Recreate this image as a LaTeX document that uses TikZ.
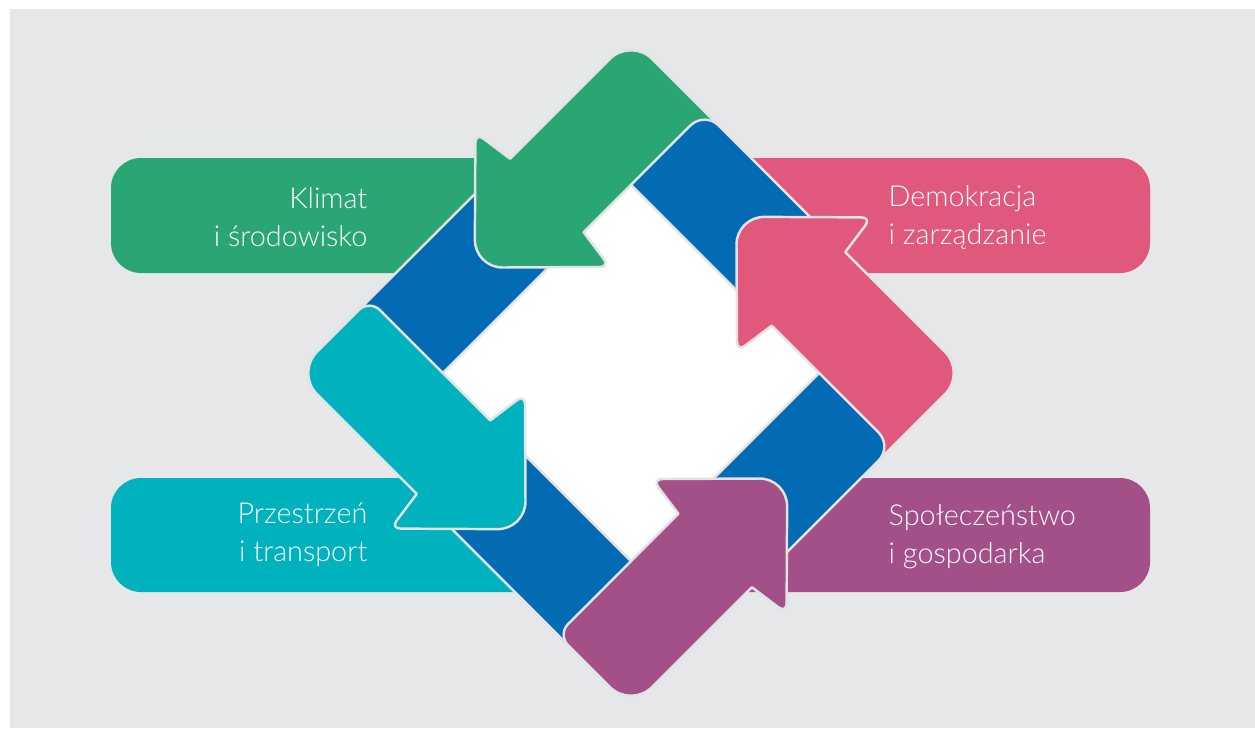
\documentclass[tikz,border=0pt]{standalone}
\usepackage{fontspec}
\IfFontExistsTF{Lato Light}{\setmainfont{Lato Light}}{\setmainfont{Lato}}
\definecolor{bggray}{HTML}{E6E7E8}
\definecolor{edgegray}{HTML}{E2E3E5}
\definecolor{ringblue}{HTML}{036BB3}
\definecolor{klimat}{HTML}{29A673}
\definecolor{demokracja}{HTML}{E0587B}
\definecolor{przestrzen}{HTML}{00B2BE}
\definecolor{spoleczenstwo}{HTML}{A45088}

\begin{document}
\begin{tikzpicture}[
    labelbox/.style={rounded corners=3mm},
    boxtext/.style={text=white, inner sep=0pt, font=\fontsize{8.2}{10.8}\selectfont},
    piece/.style={draw=edgegray, line width=.7pt, line join=round}]
        \useasboundingbox (0,0) rectangle (12.55,7.29);
        \fill[white] (0,0) rectangle (12.55,7.29);
        \fill[bggray] (0.10,0.01) rectangle (12.55,7.20);
        % label boxes
        \fill[labelbox, klimat] (1.11,4.56) rectangle (6.3,5.71);
        \fill[labelbox, demokracja] (6.3,4.56) rectangle (11.50,5.71);
        \fill[labelbox, przestrzen] (1.11,1.37) rectangle (6.3,2.51);
        \fill[labelbox, spoleczenstwo] (6.3,1.37) rectangle (11.50,2.51);
        \node[boxtext, anchor=east, align=right] (klimattext) at (3.68,5.12) {Klimat\\i środowisko};
        \node[boxtext, anchor=west, align=left] (demokracjatext) at (8.88,5.12) {Demokracja\\i zarządzanie};
        \node[boxtext, anchor=east, align=right] (przestrzentext) at (3.68,1.94) {Przestrzeń\\i transport};
        \node[boxtext, anchor=west, align=left] (spoleczenstwotext) at (8.88,1.92) {Społeczeństwo\\i gospodarka};
        % the ring, turned by 45 degrees
        \begin{scope}[shift={(6.31,3.56)}, rotate=45]
        \fill[white] (-1.33,-1.33) -- (1.33,-1.33) -- (1.33,1.33) -- (-1.33,1.33) -- cycle;
        \filldraw[piece, fill=ringblue] (-1.85,1.33) -- (0.3,1.33) -- (0.3,2.37) -- (-1.85,2.37) -- cycle;
        \filldraw[piece, fill=ringblue] (-2.37,-1.85) -- (-2.37,0.3) -- (-1.33,0.3) -- (-1.33,-1.85) -- cycle;
        % green arrow
        \filldraw[piece, fill=klimat] (0.66,2.37) [rounded corners=1mm] -- (0.60,2.80) [rounded corners=2.8mm] -- (-0.36,1.85)
            [rounded corners=1mm] -- (0.60,0.90) [sharp corners] -- (0.66,1.33) -- (1.33,1.33) -- (2.37,0.98)
            [rounded corners=3mm] -- (2.37,2.37) [sharp corners] -- cycle;
        \filldraw[piece, fill=ringblue] (1.33,1.33) [rounded corners=2mm] -- (2.37,1.33) [sharp corners] -- (2.37,-0.3) -- (1.33,-0.3) -- cycle;
        % pink arrow
        \filldraw[piece, fill=demokracja] (2.37,-0.66) [rounded corners=1mm] -- (2.80,-0.60) [rounded corners=2.8mm] -- (1.85,0.36)
            [rounded corners=1mm] -- (0.90,-0.60) [sharp corners] -- (1.33,-0.66) -- (1.33,-1.33) -- (0.98,-2.37)
            [rounded corners=3mm] -- (2.37,-2.37) [sharp corners] -- cycle;
        \filldraw[piece, fill=ringblue] (1.33,-1.33) [rounded corners=2mm] -- (1.33,-2.37) [sharp corners] -- (-0.3,-2.37) -- (-0.3,-1.33) -- cycle;
        % cyan arrow
        \filldraw[piece, fill=przestrzen] (-2.37,0.66) [rounded corners=1mm] -- (-2.80,0.60) [rounded corners=2.8mm] -- (-1.85,-0.36)
            [rounded corners=1mm] -- (-0.90,0.60) [sharp corners] -- (-1.33,0.66) [rounded corners=1.5mm] -- (-1.33,2.37)
            [rounded corners=3mm] -- (-2.37,2.37) [sharp corners] -- cycle;
        % purple arrow
        \filldraw[piece, fill=spoleczenstwo] (-0.66,-2.37) [rounded corners=1mm] -- (-0.60,-2.80) [rounded corners=2.8mm] -- (0.36,-1.85)
            [rounded corners=1mm] -- (-0.60,-0.90) [sharp corners] -- (-0.66,-1.33) [rounded corners=1.5mm] -- (-2.37,-1.33)
            [rounded corners=3mm] -- (-2.37,-2.37) [sharp corners] -- cycle;
        \end{scope}
\end{tikzpicture}
\end{document}
